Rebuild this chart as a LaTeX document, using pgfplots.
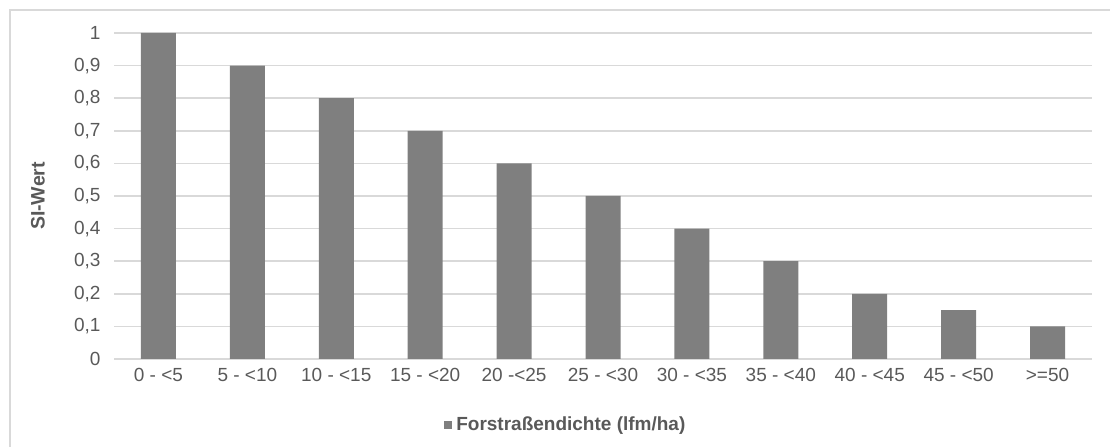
\documentclass[border=0pt]{standalone}
\usepackage{pgfplots}
\pgfplotsset{compat=1.18}
\usepackage{fontspec}
\setmainfont{Liberation Sans}
\definecolor{barc}{HTML}{7F7F7F}
\definecolor{txt}{HTML}{595959}
\definecolor{gridc}{HTML}{D9D9D9}
\begin{document}
\begin{tikzpicture}
\path[use as bounding box] (0,0) rectangle (1110bp,447bp);
\draw[gridc, line width=1.2bp] (10bp,0) -- (10bp,437bp) -- (1110bp,437bp);
\begin{axis}[
  at={(114bp,88bp)}, anchor=south west,
  scale only axis, width=978bp, height=326bp,
  xmin=-0.5, xmax=10.5, ymin=0, ymax=1,
  axis line style={draw=none},
  xtick={0,...,10},
  xticklabels={0 - <5, 5 - <10, 10 - <15, 15 - <20, 20 -<25, 25 - <30, 30 - <35, 35 - <40, 40 - <45, 45 - <50, >=50},
  ytick={0,0.1,...,1.01},
  yticklabels={0,{0,1},{0,2},{0,3},{0,4},{0,5},{0,6},{0,7},{0,8},{0,9},1},
  major tick length=0pt,
  ymajorgrids, grid style={gridc, line width=1.5bp},
  tick label style={text=txt, font=\fontsize{19bp}{22bp}\selectfont},
  yticklabel style={xshift=-10bp},
  xticklabel style={yshift=-6bp},
  ylabel={\textbf{SI-Wert}},
  ylabel style={at={(axis description cs:-0.0777,0.5)}, anchor=center, text=txt, font=\fontsize{19.5bp}{22bp}\selectfont},
  legend style={at={(axis description cs:0.462,-0.202)}, anchor=center, draw=none, fill=none,
    font=\fontsize{19bp}{22bp}\selectfont\bfseries, text=txt,
    /tikz/every odd column/.append style={column sep=2bp}},
  legend image code/.code={\fill[barc] (0bp,-4bp) rectangle (8bp,4bp);},
]
\addplot[ybar, bar width=35bp, fill=barc, draw=none] coordinates {
  (0,1) (1,0.9) (2,0.8) (3,0.7) (4,0.6) (5,0.5) (6,0.4) (7,0.3) (8,0.2) (9,0.15) (10,0.1)
};
\addlegendentry{Forstraßendichte (lfm/ha)}
\end{axis}
\end{tikzpicture}
\end{document}
